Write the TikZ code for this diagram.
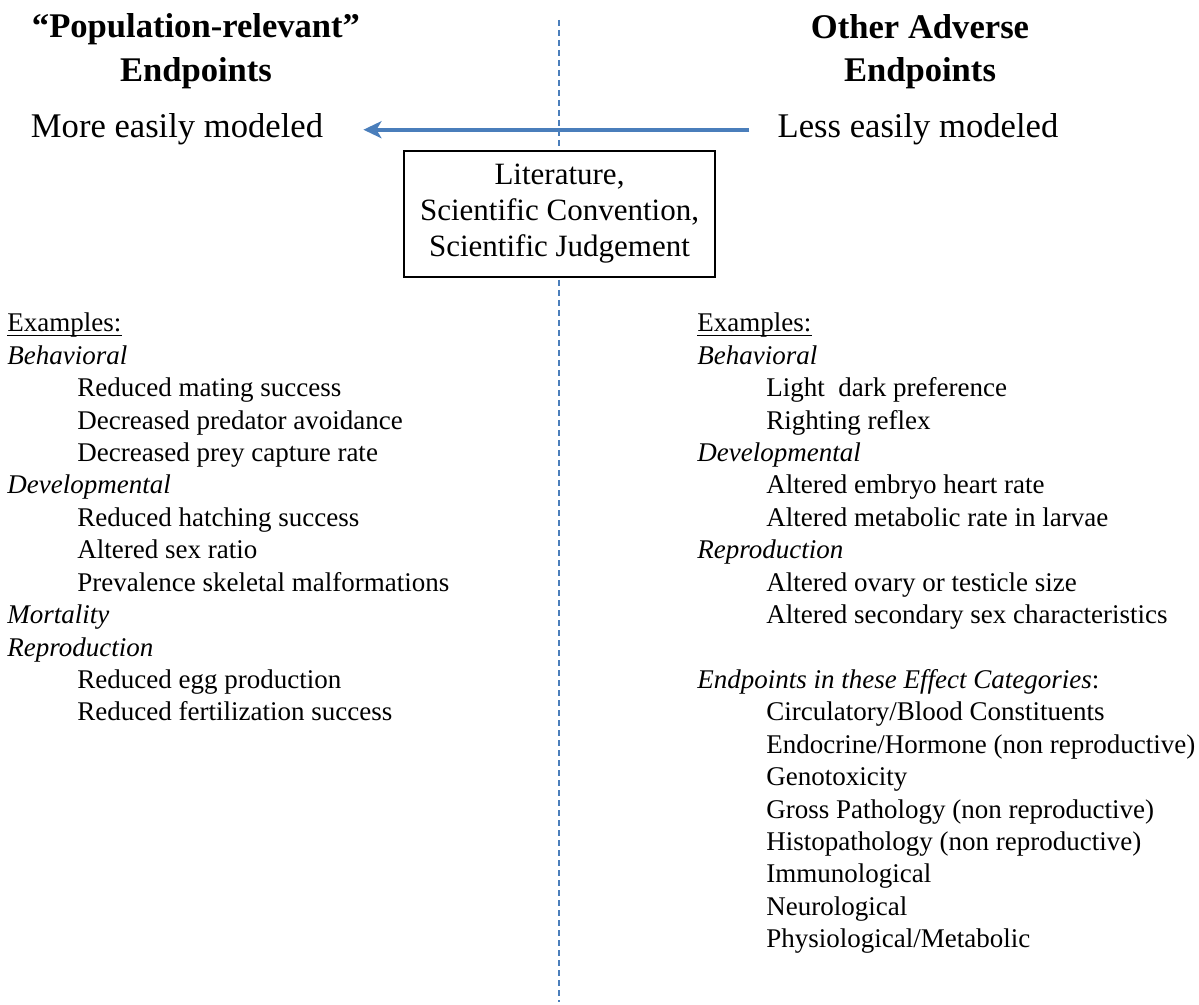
\documentclass[tikz,border=0pt]{standalone}
\usepackage{fontspec}
\setmainfont{Liberation Serif}
\usetikzlibrary{arrows.meta}
\definecolor{wordblue}{RGB}{74,126,187}

\begin{document}
\begin{tikzpicture}[x=0.5pt,y=-0.5pt,
    every node/.style={inner sep=0pt},
    head/.style={font=\fontsize{17.3}{22}\selectfont\bfseries, anchor=base},
    ease/.style={font=\fontsize{17.3}{21}\selectfont, anchor=base},
    entry/.style={font=\fontsize{13.5}{16.2}\selectfont, anchor=base west}]
    \useasboundingbox (0,0) rectangle (1199,1005);
    % middle divider
    \coordinate (divtop) at (559,20);
    \coordinate (divbot) at (559,1002);
    \draw[wordblue, line width=0.6pt, dash pattern=on 3pt off 2pt] (divtop) -- (divbot);
    % headings
    \node[head] (hl1) at (196,38) {``Population-relevant''};
    \node[head] (hl2) at (196,82) {Endpoints};
    \node[head] (hr1) at (920,39) {Other Adverse};
    \node[head] (hr2) at (920,82) {Endpoints};
    \node[ease] (more) at (177,138) {More easily modeled};
    \node[ease] (less) at (918,138) {Less easily modeled};
    \draw[wordblue, line width=1.9pt, -{Stealth[length=9pt,width=8.5pt,inset=2.5pt]}] ([xshift=-14pt]less.west) -- ([xshift=20pt]more.east);
    \node[draw, line width=0.6pt, fill=white, minimum width=155.5pt, minimum height=63pt, align=center,
          font=\fontsize{15.5}{18}\selectfont] (basis) at (559.5,214) {Literature,\\Scientific Convention,\\Scientific Judgement};
    % left column
    \node[entry] (exl) at (7,332) {Examples:};
    \draw[line width=0.6pt] ([yshift=-1.6pt]exl.base west) -- ([yshift=-1.6pt]exl.base east);
    \node[entry] (lbeh) at (7,364.4) {\itshape Behavioral};
    \node[entry] (l1) at (77,396.8) {Reduced mating success};
    \node[entry] (l2) at (77,429.2) {Decreased predator avoidance};
    \node[entry] (l3) at (77,461.6) {Decreased prey capture rate};
    \node[entry] (ldev) at (7,494) {\itshape Developmental};
    \node[entry] (l4) at (77,526.4) {Reduced hatching success};
    \node[entry] (l5) at (77,558.8) {Altered sex ratio};
    \node[entry] (l6) at (77,591.2) {Prevalence skeletal malformations};
    \node[entry] (lmor) at (7,623.6) {\itshape Mortality};
    \node[entry] (lrep) at (7,656) {\itshape Reproduction};
    \node[entry] (l7) at (77,688.4) {Reduced egg production};
    \node[entry] (l8) at (77,720.8) {Reduced fertilization success};
    % right column
    \node[entry] (exr) at (697,332) {Examples:};
    \draw[line width=0.6pt] ([yshift=-1.6pt]exr.base west) -- ([yshift=-1.6pt]exr.base east);
    \node[entry] (rbeh) at (697,364.4) {\itshape Behavioral};
    \node[entry] (r1) at (766,396.8) {Light\hspace{0.25em} dark preference};
    \node[entry] (r2) at (766,429.2) {Righting reflex};
    \node[entry] (rdev) at (697,461.6) {\itshape Developmental};
    \node[entry] (r3) at (766,494) {Altered embryo heart rate};
    \node[entry] (r4) at (766,526.4) {Altered metabolic rate in larvae};
    \node[entry] (rrep) at (697,558.8) {\itshape Reproduction};
    \node[entry] (r5) at (766,591.2) {Altered ovary or testicle size};
    \node[entry] (r6) at (766,623.6) {Altered secondary sex characteristics};
    \node[entry] (rcat) at (697,688.4) {\textit{Endpoints in these Effect Categories}:};
    \node[entry] (c1) at (766,720.8) {Circulatory/Blood Constituents};
    \node[entry] (c2) at (766,753.2) {Endocrine/Hormone (non reproductive)};
    \node[entry] (c3) at (766,785.6) {Genotoxicity};
    \node[entry] (c4) at (766,818) {Gross Pathology (non reproductive)};
    \node[entry] (c5) at (766,850.4) {Histopathology (non reproductive)};
    \node[entry] (c6) at (766,882.8) {Immunological};
    \node[entry] (c7) at (766,915.2) {Neurological};
    \node[entry] (c8) at (766,947.6) {Physiological/Metabolic};
\end{tikzpicture}
\end{document}
